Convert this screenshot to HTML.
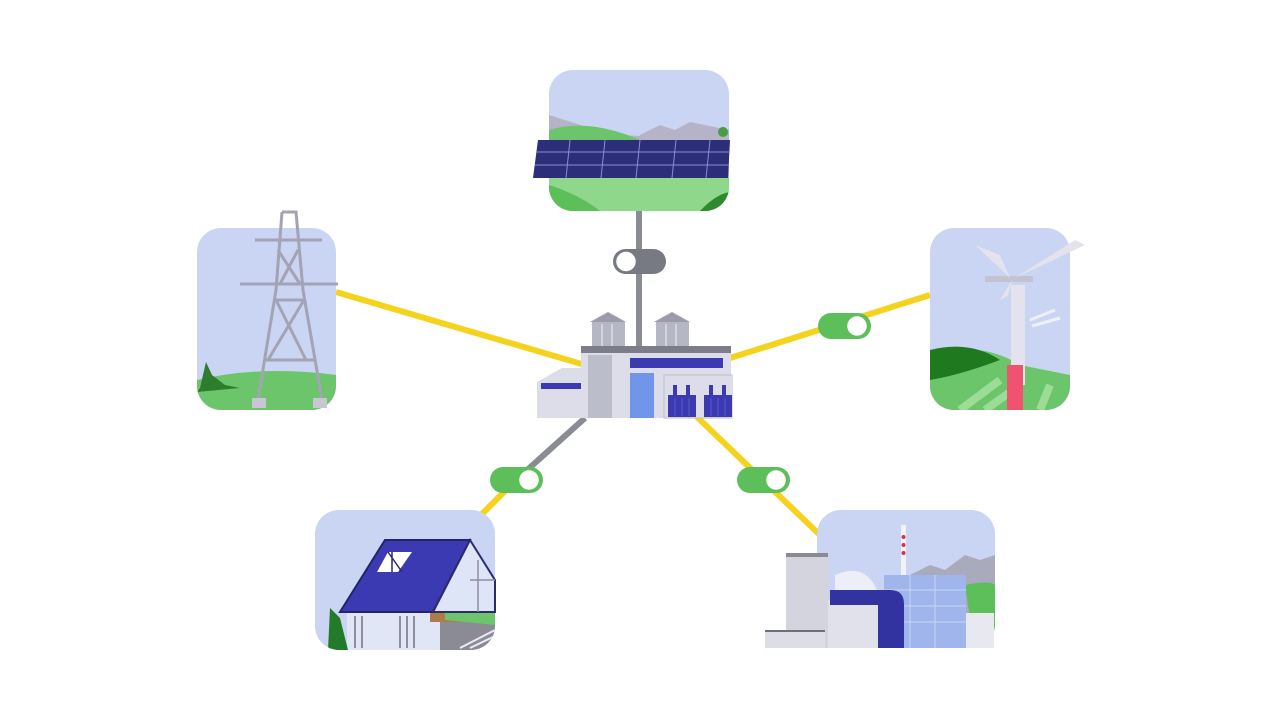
<!DOCTYPE html>
<html><head><meta charset="utf-8"><style>html,body{margin:0;padding:0;background:#fff;width:1280px;height:720px;overflow:hidden}</style></head>
<body>
<svg width="1280" height="720" viewBox="0 0 1280 720" xmlns="http://www.w3.org/2000/svg">
<defs>
<clipPath id="cT"><rect x="549" y="70" width="180" height="141" rx="24"/></clipPath>
<clipPath id="cL"><rect x="197" y="228" width="139" height="182" rx="24"/></clipPath>
<clipPath id="cR"><rect x="930" y="228" width="140" height="182" rx="24"/></clipPath>
<clipPath id="cBL"><rect x="315" y="510" width="180" height="140" rx="24"/></clipPath>
<clipPath id="cBR"><rect x="817" y="510" width="178" height="138" rx="24"/></clipPath>
</defs>
<line x1="336" y1="292" x2="585" y2="365" stroke="#f5d21c" stroke-width="6"/>
<line x1="930" y1="295" x2="730" y2="358" stroke="#f5d21c" stroke-width="6"/>
<line x1="585" y1="418" x2="516" y2="480" stroke="#8a8c94" stroke-width="6"/>
<line x1="516" y1="480" x2="478" y2="518" stroke="#f5d21c" stroke-width="6"/>
<line x1="695" y1="415" x2="820" y2="535" stroke="#f5d21c" stroke-width="6"/>
<line x1="639" y1="205" x2="639" y2="350" stroke="#8a8c94" stroke-width="6"/>
<rect x="613" y="249" width="53" height="25" rx="12.5" fill="#777a82"/><circle cx="626" cy="261.5" r="11" fill="#fff" stroke="#777a82" stroke-width="2.5"/>
<rect x="818" y="313" width="53" height="26" rx="13" fill="#5cbf5a"/><circle cx="857" cy="326" r="11" fill="#fff" stroke="#5cbf5a" stroke-width="2.5"/>
<rect x="490" y="467" width="53" height="26" rx="13" fill="#5cbf5a"/><circle cx="529" cy="480" r="11" fill="#fff" stroke="#5cbf5a" stroke-width="2.5"/>
<rect x="737" y="467" width="53" height="26" rx="13" fill="#5cbf5a"/><circle cx="776" cy="480" r="11" fill="#fff" stroke="#5cbf5a" stroke-width="2.5"/>

<g clip-path="url(#cT)">
<rect x="549" y="70" width="180" height="141" fill="#c9d5f2"/>
<path d="M549 115 L590 128 L620 135 L729 140 L729 211 L549 211Z" fill="#b4b3c8"/>
<path d="M640 135 L660 125 L675 130 L690 122 L729 130 L729 150 L640 150Z" fill="#b4b3c8"/>
<path d="M549 130 Q590 118 640 140 L549 150Z" fill="#6cc56a"/>
<rect x="549" y="175" width="180" height="36" fill="#8fd78a"/>
<path d="M549 185 Q580 195 600 211 L549 211Z" fill="#5cbf5a"/>
<path d="M700 211 Q715 195 729 192 L729 211Z" fill="#2e8a2e"/>
<circle cx="723" cy="132" r="5" fill="#4a9a46"/>
</g>
<polygon points="538,140 730,140 728,178 533,178" fill="#2d2e7a"/>
<g stroke="#8a8fcf" stroke-width="1">
<line x1="570" y1="140" x2="566" y2="178"/><line x1="605" y1="140" x2="601" y2="178"/><line x1="640" y1="140" x2="636" y2="178"/><line x1="676" y1="140" x2="672" y2="178"/><line x1="710" y1="140" x2="706" y2="178"/>
<line x1="536" y1="152" x2="730" y2="152"/><line x1="535" y1="165" x2="729" y2="165"/>
</g>

<g clip-path="url(#cL)">
<rect x="197" y="228" width="139" height="182" fill="#c9d5f2"/>
<path d="M197 380 Q260 365 336 375 L336 410 L197 410Z" fill="#6cc56a"/>
<path d="M200 388 L206 362 L212 375 L225 385 L240 388 L197 392Z" fill="#2e7d2e"/>
</g>
<g stroke="#a3a3b5" stroke-width="3" fill="none">
<path d="M282 212 L296 212 L303 290 L322 400 M282 212 L276 290 L258 400"/>
<line x1="255" y1="240" x2="322" y2="240"/><line x1="240" y1="284" x2="338" y2="284"/>
<line x1="275" y1="300" x2="303" y2="300"/><line x1="265" y1="360" x2="315" y2="360"/>
<path d="M278 250 L300 284 M298 250 L280 284 M276 300 L306 360 M304 300 L268 360"/>
</g>
<rect x="252" y="398" width="14" height="10" fill="#c7c7d3"/><rect x="313" y="398" width="14" height="10" fill="#c7c7d3"/>

<g clip-path="url(#cR)">
<rect x="930" y="228" width="140" height="182" fill="#c9d5f2"/>
<path d="M930 355 Q980 340 1020 365 L1070 375 L1070 410 L930 410Z" fill="#6cc56a"/>
<path d="M930 350 Q970 340 1000 360 Q960 375 930 380Z" fill="#1f7a1f"/>
<path d="M960 410 L1000 380 M985 410 L1020 385 M1040 410 L1050 385" stroke="#9ddc96" stroke-width="8"/>
</g>
<rect x="1011" y="285" width="14" height="100" fill="#e4e2ec"/>
<rect x="1007" y="365" width="16" height="45" fill="#ef5370"/>
<rect x="985" y="276" width="48" height="6" fill="#c2c2d0"/>
<path d="M1010 278 L975 245 L1000 255Z M1015 278 L1085 245 L1075 240Z M1012 280 L1000 300 L1008 296Z" fill="#e4e2ec"/>
<path d="M1030 320 L1055 310 M1032 326 L1060 318" stroke="#eef0f8" stroke-width="3" fill="none"/>

<g clip-path="url(#cBL)">
<rect x="315" y="510" width="180" height="140" fill="#c9d5f2"/>
<rect x="347" y="612" width="150" height="38" fill="#e0e6f5"/>
<path d="M328 650 L330 608 L340 618 L348 650Z" fill="#237a28"/>
<rect x="440" y="600" width="55" height="50" fill="#8a8b95"/>
<rect x="430" y="604" width="40" height="18" fill="#b07a4a"/>
<path d="M445 612 Q470 595 495 605 L495 625 L445 620Z" fill="#6cc56a"/>
<path d="M460 648 L495 630 M470 648 L495 636" stroke="#e8ebf5" stroke-width="2"/>
</g>
<polygon points="385,540 470,540 433,612 340,612" fill="#3c3ab3" stroke="#222470" stroke-width="2"/>
<polygon points="470,540 495,580 495,612 433,612" fill="#dde5f7" stroke="#2b2b6a" stroke-width="2"/>
<path d="M470 580 L495 580 M478 560 L478 612" stroke="#8e8ea0" stroke-width="1.5"/>
<polygon points="388,552 412,552 398,572 377,572" fill="#fff"/>
<path d="M388 552 L402 572 M392 552 L392 572" stroke="#2b2b6a" stroke-width="1.5"/>
<g stroke="#8e8ea0" stroke-width="2"><line x1="355" y1="616" x2="355" y2="648"/><line x1="362" y1="616" x2="362" y2="648"/><line x1="400" y1="616" x2="400" y2="648"/><line x1="407" y1="616" x2="407" y2="648"/><line x1="414" y1="616" x2="414" y2="648"/></g>

<g clip-path="url(#cBR)">
<rect x="817" y="510" width="178" height="138" fill="#c9d5f2"/>
<path d="M910 575 L930 565 L945 570 L965 555 L980 560 L995 555 L995 648 L910 648Z" fill="#aaaabd"/>
<path d="M965 585 Q990 580 995 585 L995 632 L972 632Z" fill="#5cbf5a"/>
</g>
<rect x="901" y="525" width="5" height="55" fill="#f2f2f6"/>
<circle cx="903.5" cy="537" r="2" fill="#d0344a"/><circle cx="903.5" cy="545" r="2" fill="#d0344a"/><circle cx="903.5" cy="553" r="2" fill="#d0344a"/>
<path d="M835 575 Q870 560 880 600 L835 600Z" fill="#eceff7"/>
<rect x="884" y="575" width="82" height="73" fill="#9fb5ec"/>
<g stroke="#c9d5f2" stroke-width="1"><line x1="884" y1="590" x2="966" y2="590"/><line x1="884" y1="606" x2="966" y2="606"/><line x1="884" y1="622" x2="966" y2="622"/><line x1="910" y1="575" x2="910" y2="648"/><line x1="935" y1="575" x2="935" y2="648"/></g>
<rect x="786" y="553" width="42" height="95" fill="#d3d4de"/><rect x="786" y="553" width="42" height="4" fill="#8a8b95"/>
<rect x="765" y="630" width="60" height="18" fill="#dcdde6"/><rect x="765" y="630" width="60" height="2" fill="#6e6f78"/>
<rect x="828" y="600" width="60" height="48" fill="#e0e1ea"/>
<path d="M830 590 L890 590 Q904 590 904 604 L904 648 L878 648 L878 605 L830 605Z" fill="#3232a0"/>
<rect x="966" y="613" width="28" height="35" fill="#e8e9f0"/>

<polygon points="590,322 608,312 626,322" fill="#9b9ca8"/><rect x="592" y="322" width="33" height="28" fill="#b6b7c4"/>
<polygon points="654,322 672,312 690,322" fill="#9b9ca8"/><rect x="656" y="322" width="33" height="28" fill="#b6b7c4"/>
<g stroke="#dcdde8" stroke-width="1.5"><line x1="602" y1="324" x2="602" y2="346"/><line x1="612" y1="324" x2="612" y2="346"/><line x1="666" y1="324" x2="666" y2="346"/><line x1="676" y1="324" x2="676" y2="346"/></g>
<rect x="581" y="348" width="150" height="70" fill="#dcdde8"/>
<rect x="581" y="346" width="150" height="7" fill="#7c7d88"/>
<polygon points="537,382 562,368 581,368 581,418 537,418" fill="#dcdde8"/>
<rect x="541" y="383" width="40" height="6" fill="#3c3ab3"/>
<rect x="588" y="355" width="24" height="63" fill="#bcbdca"/>
<rect x="630" y="358" width="93" height="10" fill="#3c3ab3"/>
<rect x="630" y="373" width="24" height="45" fill="#6f96e8"/>
<rect x="664" y="375" width="68" height="43" fill="none" stroke="#bfc0cc" stroke-width="1"/>
<rect x="668" y="395" width="28" height="22" fill="#3c3ab3"/><rect x="704" y="395" width="28" height="22" fill="#3c3ab3"/>
<g fill="#3c3ab3"><rect x="673" y="385" width="4" height="10"/><rect x="686" y="385" width="4" height="10"/><rect x="709" y="385" width="4" height="10"/><rect x="722" y="385" width="4" height="10"/></g>
<g stroke="#5a58c8" stroke-width="1"><line x1="675" y1="398" x2="675" y2="416"/><line x1="682" y1="398" x2="682" y2="416"/><line x1="689" y1="398" x2="689" y2="416"/><line x1="711" y1="398" x2="711" y2="416"/><line x1="718" y1="398" x2="718" y2="416"/><line x1="725" y1="398" x2="725" y2="416"/></g>
</svg>
</body></html>
